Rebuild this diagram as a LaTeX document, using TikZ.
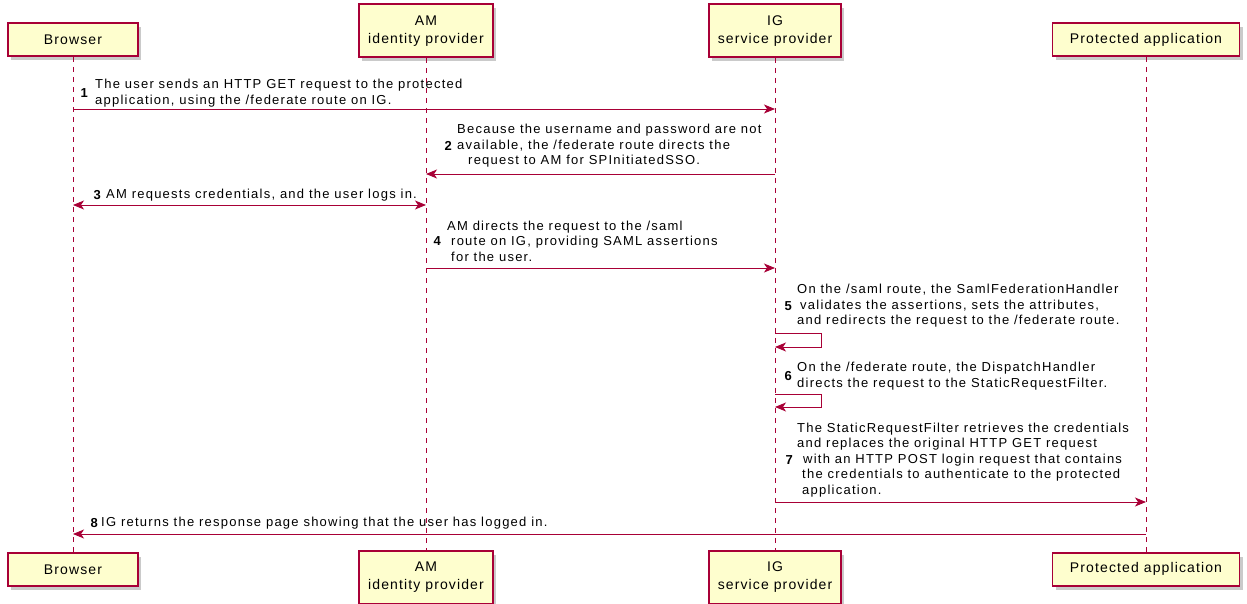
\documentclass[tikz,border=0pt]{standalone}
\usepackage{fontspec}
\setmainfont[LetterSpace=8]{Liberation Sans}
\newfontfamily\msgfont[LetterSpace=9.5]{Liberation Sans}
\usetikzlibrary{arrows.meta,shadows}
\definecolor{umlred}{HTML}{A80036}
\definecolor{umlfill}{HTML}{FEFECE}

\begin{document}
\begin{tikzpicture}[x=1pt,y=-1pt,
	part/.style={draw=umlred,fill=umlfill,line width=1.5pt,align=center,inner sep=0pt,
		minimum height=33pt,font=\fontsize{14}{18}\selectfont,
		drop shadow={shadow xshift=3pt,shadow yshift=-4pt,opacity=0.35,fill=black!60}},
	life/.style={umlred,dash pattern=on 5pt off 5pt,line width=0.8pt},
	msg/.style={umlred,line width=0.9pt,-{Stealth[length=11pt,width=9pt,inset=3pt]}},
	both/.style={umlred,line width=0.9pt,{Stealth[length=11pt,width=9pt,inset=3pt]}-{Stealth[length=11pt,width=9pt,inset=3pt]}},
	txt/.style={align=left,anchor=west,inner sep=0pt,font=\msgfont\fontsize{13}{15.5}\selectfont},
	num/.style={anchor=east,inner sep=0pt,font=\bfseries\fontsize{13}{15.5}\selectfont}]
	
	\useasboundingbox (0,0) rectangle (1247,604);
	
	%%Participants
	\node[part,minimum width=130pt,anchor=south] (brT) at (73,57) {Browser};
	\node[part,minimum width=134pt,minimum height=53pt,anchor=south] (amT) at (426,58) {AM\\identity provider};
	\node[part,minimum width=132pt,minimum height=53pt,anchor=south] (igT) at (775,58) {IG\\service provider};
	\node[part,minimum width=187pt,anchor=south] (paT) at (1146,57) {Protected application};
	
	\node[part,minimum width=130pt,anchor=north] (brB) at (73,552) {Browser};
	\node[part,minimum width=134pt,minimum height=53pt,anchor=north] (amB) at (426,550) {AM\\identity provider};
	\node[part,minimum width=132pt,minimum height=53pt,anchor=north] (igB) at (775,550) {IG\\service provider};
	\node[part,minimum width=187pt,anchor=north] (paB) at (1146,552) {Protected application};
	
	%%Lifelines
	\draw[life] (brT.south) -- (brB.north);
	\draw[life] (amT.south) -- (amB.north);
	\draw[life] (igT.south) -- (igB.north);
	\draw[life] (paT.south) -- (paB.north);
	
	%%Messages
	\draw[msg] (brT |- 0,109) -- (igT |- 0,109);
	\draw[msg] (igT |- 0,174) -- (amT |- 0,174);
	\draw[both] (brT |- 0,205) -- (amT |- 0,205);
	\draw[msg] (amT |- 0,268) -- (igT |- 0,268);
	\draw[msg] (igT |- 0,333) -- ++(46,0) -- ++(0,14) -- (igT |- 0,347);
	\draw[msg] (igT |- 0,394) -- ++(46,0) -- ++(0,13) -- (igT |- 0,407);
	\draw[msg] (igT |- 0,502) -- (paT |- 0,502);
	\draw[msg] (paT |- 0,534) -- (brT |- 0,534);
	
	%%Labels
	\node[num] (n1) at (88,93) {1};
	\node[txt] (t1) at (95,93) {The user sends an HTTP GET request to the protected\\application, using the /federate route on IG.};
	\node[num] (n2) at (452,146) {2};
	\node[txt] (t2) at (457,146) {Because the username and password are not\\available, the /federate route directs the\\\hspace{11pt}request to AM for SPInitiatedSSO.};
	\node[num] (n3) at (101,195) {3};
	\node[txt] (t3) at (106,195) {AM requests credentials, and the user logs in.};
	\node[num] (n4) at (441,241) {4};
	\node[txt] (t4) at (447,241) {AM directs the request to the /saml\\\hspace{4pt}route on IG, providing SAML assertions\\\hspace{4pt}for the user.};
	\node[num] (n5) at (792,306) {5};
	\node[txt] (t5) at (797,306) {On the /saml route, the SamlFederationHandler\\\hspace{3pt}validates the assertions, sets the attributes,\\and redirects the request to the /federate route.};
	\node[num] (n6) at (792,376) {6};
	\node[txt] (t6) at (797,376) {On the /federate route, the DispatchHandler\\directs the request to the StaticRequestFilter.};
	\node[num] (n7) at (793,460) {7};
	\node[txt] (t7) at (797,460) {The StaticRequestFilter retrieves the credentials\\and replaces the original HTTP GET request\\\hspace{6pt}with an HTTP POST login request that contains\\\hspace{5pt}the credentials to authenticate to the protected\\\hspace{5pt}application.};
	\node[num] (n8) at (98,523) {8};
	\node[txt] (t8) at (101,523) {IG returns the response page showing that the user has logged in.};
	
\end{tikzpicture}
\end{document}
